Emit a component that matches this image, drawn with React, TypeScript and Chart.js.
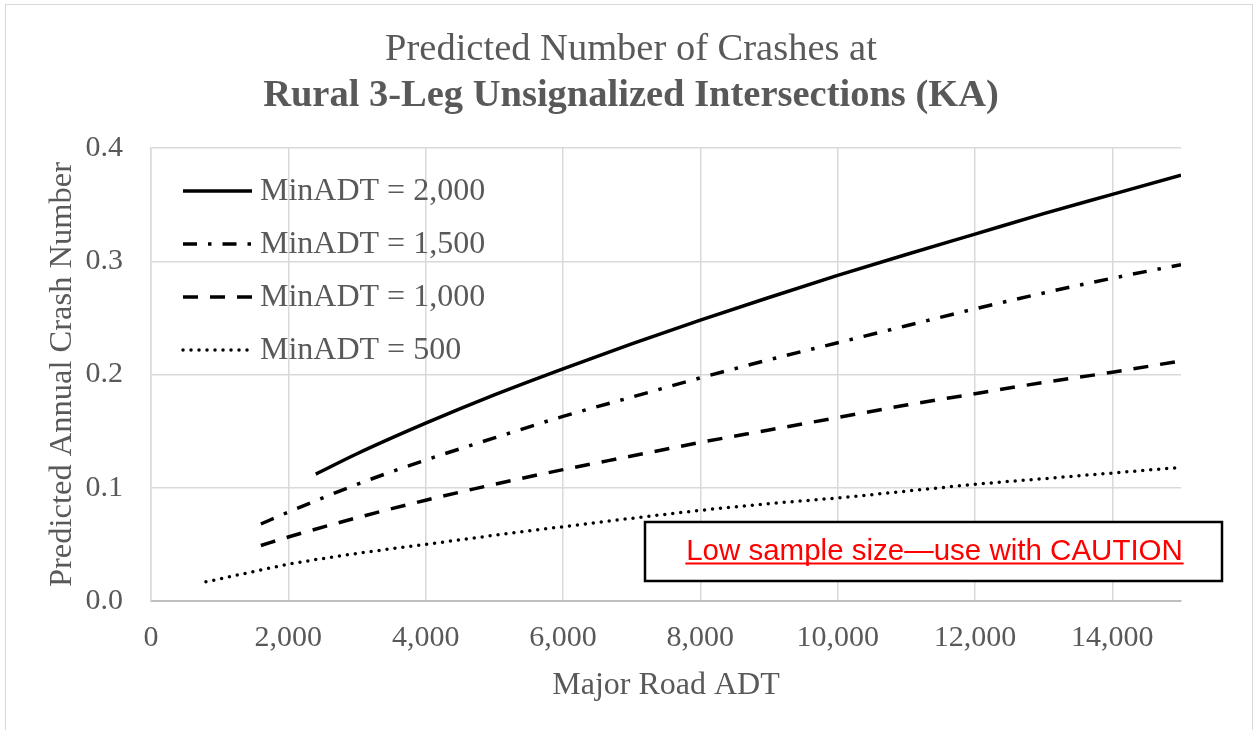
import React, { useEffect, useRef } from 'react';
import { Chart, registerables } from 'chart.js';

Chart.register(...registerables);

const SERIF = "'Liberation Serif', 'Times New Roman', serif";
const SANS = "'Liberation Sans', Arial, sans-serif";
const TEXT = '#595959';
const GRID = '#D9D9D9';

const titleLine1 = 'Predicted Number of Crashes at';
const titleLine2 = 'Rural 3-Leg Unsignalized Intersections (KA)';
const xAxisTitle = 'Major Road ADT';
const yAxisTitle = 'Predicted Annual Crash Number';
const cautionText = 'Low sample size\u2014use with CAUTION';

const seriesLabels = ['MinADT = 2,000', 'MinADT = 1,500', 'MinADT = 1,000', 'MinADT = 500'];

// Major road ADT (x) and predicted crashes (y) for each minor-road ADT curve
const majorADT2000 = [2400, 3000, 4000, 5000, 6000, 7000, 8000, 9000, 10000, 11000, 12000, 13000, 14000, 15000];
const crashes2000 = [0.112, 0.130, 0.157, 0.182, 0.205, 0.227, 0.248, 0.268, 0.2875, 0.306, 0.324, 0.342, 0.359, 0.376];

const majorADT1500 = [1600, 2000, 3000, 4000, 5000, 6000, 7000, 8000, 9000, 10000, 11000, 12000, 13000, 14000, 15000];
const crashes1500 = [0.068, 0.0785, 0.103, 0.1245, 0.144, 0.163, 0.180, 0.197, 0.213, 0.228, 0.243, 0.258, 0.272, 0.285, 0.297];

const majorADT1000 = [1600, 2000, 3000, 4000, 5000, 6000, 7000, 8000, 9000, 10000, 11000, 12000, 13000, 14000, 15000];
const crashes1000 = [0.049, 0.0565, 0.0735, 0.089, 0.103, 0.116, 0.128, 0.140, 0.151, 0.162, 0.173, 0.183, 0.193, 0.202, 0.212];

const majorADT500 = [800, 1000, 2000, 3000, 4000, 5000, 6000, 7000, 8000, 9000, 10000, 11000, 12000, 13000, 14000, 15000];
const crashes500 = [0.017, 0.0195, 0.0324, 0.042, 0.050, 0.058, 0.0656, 0.073, 0.080, 0.086, 0.091, 0.097, 0.103, 0.108, 0.113, 0.118];

const xTickValues = [0, 2000, 4000, 6000, 8000, 10000, 12000, 14000];
const yTickValues = [0, 0.1, 0.2, 0.3, 0.4];
const xMin = 0;
const xMax = 15000;
const yMin = 0;
const yMax = 0.4;

const toPoints = (xs: number[], ys: number[]) => xs.map((x, i) => ({ x, y: ys[i] }));

const decorPlugin = {
  id: 'decor',
  beforeDraw(chart: any) {
    const ctx = chart.ctx;
    ctx.save();
    ctx.fillStyle = '#ffffff';
    ctx.fillRect(0, 0, chart.width, chart.height);
    ctx.strokeStyle = GRID;
    ctx.lineWidth = 1;
    ctx.strokeRect(5.5, 4.5, chart.width - 7, chart.height + 20);
    // Two-line title: regular line, then bold line
    const cx = chart.width / 2 + 4;
    ctx.fillStyle = TEXT;
    ctx.textAlign = 'center';
    ctx.textBaseline = 'middle';
    ctx.font = `normal 38.5px ${SERIF}`;
    ctx.fillText(titleLine1, cx, 49.5);
    ctx.font = `bold 38.5px ${SERIF}`;
    ctx.fillText(titleLine2, cx, 96);
    ctx.restore();
  },
  afterDatasetsDraw(chart: any) {
    const ctx = chart.ctx;
    const area = chart.chartArea;
    // Legend inside plot area
    const x0 = area.left + 32;
    const y0 = area.top + 43;
    const step = 53;
    ctx.save();
    chart.data.datasets.forEach((ds: any, i: number) => {
      const y = y0 + i * step;
      ctx.beginPath();
      ctx.setLineDash(ds.borderDash || []);
      ctx.lineCap = ds.borderCapStyle || 'butt';
      ctx.lineWidth = ds.borderWidth;
      ctx.strokeStyle = ds.borderColor;
      ctx.moveTo(x0, y);
      ctx.lineTo(x0 + 69, y);
      ctx.stroke();
      ctx.setLineDash([]);
      ctx.fillStyle = TEXT;
      ctx.font = `32px ${SERIF}`;
      ctx.textAlign = 'left';
      ctx.textBaseline = 'middle';
      ctx.fillText(ds.label, x0 + 77, y + 1);
    });
    // Caution box
    const bl = area.right - 536;
    const br = area.right + 41;
    const bt = area.bottom - 79;
    const bb = area.bottom - 20;
    ctx.fillStyle = '#ffffff';
    ctx.fillRect(bl, bt, br - bl, bb - bt);
    ctx.strokeStyle = '#000000';
    ctx.lineWidth = 2.5;
    ctx.setLineDash([]);
    ctx.strokeRect(bl, bt, br - bl, bb - bt);
    ctx.font = `29.5px ${SANS}`;
    ctx.fillStyle = '#FF0000';
    ctx.textAlign = 'center';
    ctx.textBaseline = 'alphabetic';
    const cx = (bl + br) / 2 + 1;
    const by = bt + 38;
    ctx.fillText(cautionText, cx, by);
    const w = ctx.measureText(cautionText).width;
    ctx.beginPath();
    ctx.strokeStyle = '#FF0000';
    ctx.lineWidth = 2;
    ctx.moveTo(cx - w / 2, by + 3.5);
    ctx.lineTo(cx + w / 2, by + 3.5);
    ctx.stroke();
    ctx.restore();
  },
};

export default function App() {
  const ref = useRef<HTMLCanvasElement | null>(null);

  useEffect(() => {
    if (!ref.current) return;
    const common = {
      borderColor: '#000000',
      borderWidth: 3.5,
      pointRadius: 0,
      pointHoverRadius: 0,
      fill: false,
      cubicInterpolationMode: 'monotone' as const,
    };
    const chart = new Chart(ref.current, {
      type: 'line',
      data: {
        datasets: [
          { ...common, label: seriesLabels[0], data: toPoints(majorADT2000, crashes2000), borderDash: [], borderCapStyle: 'butt' },
          { ...common, label: seriesLabels[1], data: toPoints(majorADT1500, crashes1500), borderDash: [14, 11, 3.5, 11], borderCapStyle: 'butt' },
          { ...common, label: seriesLabels[2], data: toPoints(majorADT1000, crashes1000), borderDash: [15, 12], borderCapStyle: 'butt' },
          { ...common, label: seriesLabels[3], data: toPoints(majorADT500, crashes500), borderDash: [0, 8], borderCapStyle: 'round' },
        ] as any,
      },
      options: {
        responsive: false,
        maintainAspectRatio: false,
        animation: false,
        devicePixelRatio: 1,
        layout: { padding: { top: 148, right: 73, bottom: 0, left: 0 } },
        plugins: {
          legend: { display: false },
          tooltip: { enabled: false },
          title: { display: false },
        },
        scales: {
          x: {
            type: 'linear',
            min: xMin,
            max: xMax,
            afterFit: (s: any) => { s.height = 129; },
            afterBuildTicks: (s: any) => { s.ticks = xTickValues.map((v) => ({ value: v })); },
            ticks: {
              color: TEXT,
              padding: 22,
              maxRotation: 0,
              autoSkip: false,
              font: { family: SERIF, size: 30, lineHeight: 1 },
              callback: (v: any) => Number(v).toLocaleString('en-US'),
            },
            grid: { color: GRID, lineWidth: 1.5, drawTicks: false },
            border: { display: true, color: '#BFBFBF', width: 2 },
            title: {
              display: true,
              text: xAxisTitle,
              color: TEXT,
              font: { family: SERIF, size: 32, lineHeight: 1 },
              padding: { top: 0, bottom: 28 },
            },
          },
          y: {
            type: 'linear',
            min: yMin,
            max: yMax,
            afterFit: (s: any) => { s.width = 151; },
            afterBuildTicks: (s: any) => { s.ticks = yTickValues.map((v) => ({ value: v })); },
            ticks: {
              color: TEXT,
              padding: 28,
              autoSkip: false,
              font: { family: SERIF, size: 30, lineHeight: 1 },
              callback: (v: any) => Number(v).toFixed(1),
            },
            grid: { color: GRID, lineWidth: 1.5, drawTicks: false },
            border: { display: true, color: GRID, width: 1.5 },
            title: {
              display: true,
              text: yAxisTitle,
              color: TEXT,
              font: { family: SERIF, size: 32.5, lineHeight: 1 },
              padding: { top: 46, bottom: 0 },
            },
          },
        },
      } as any,
      plugins: [decorPlugin],
    });
    return () => chart.destroy();
  }, []);

  return (
    <div style={{ position: 'absolute', left: 0, top: 0, width: 1254, height: 730 }}>
      <canvas ref={ref} width={1254} height={730} style={{ display: 'block' }} />
    </div>
  );
}
